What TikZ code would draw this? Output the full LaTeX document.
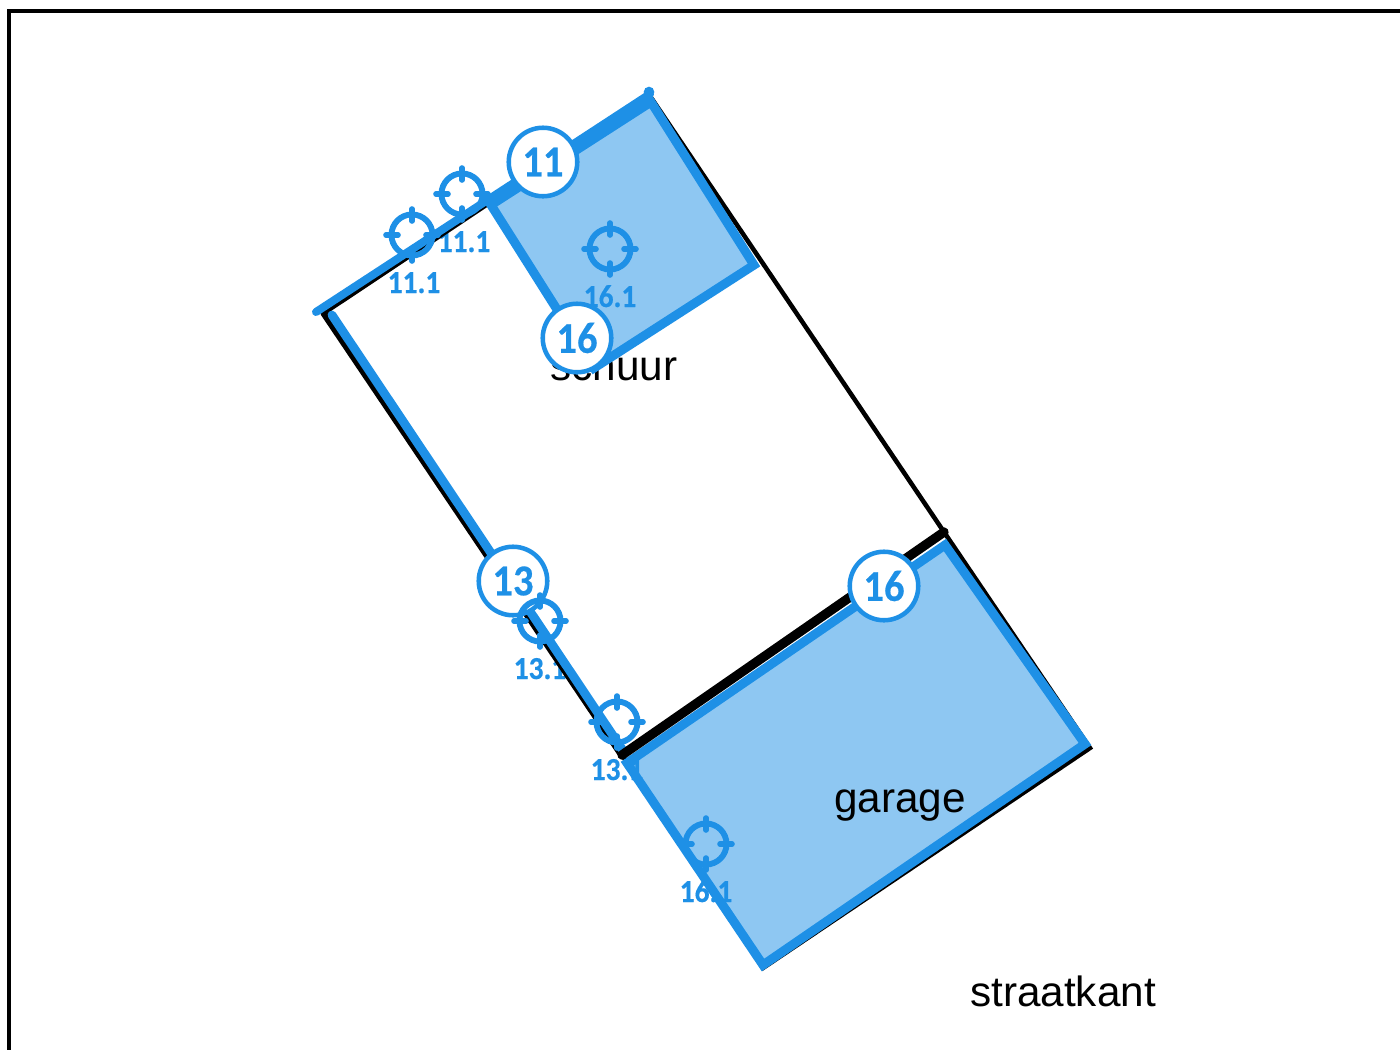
\documentclass[tikz,border=0pt]{standalone}
\usepackage{fontspec}
\setmainfont{Liberation Sans}
\newfontfamily\markfont[BoldFeatures={FakeBold=0.5,FakeStretch=0.92}]{Carlito}
\definecolor{markblue}{RGB}{30,144,230}
\tikzset{
  x=0.75pt,y=-0.75pt,
  place/.style={anchor=base,inner sep=0pt,font=\fontsize{31.7}{36}\selectfont,text=black},
  smalltag/.style={anchor=base,inner sep=0pt,font=\markfont\bfseries\fontsize{24}{26}\selectfont,text=markblue},
  bigtag/.style={circle,draw=markblue,fill=white,line width=3.4pt,minimum size=51.4pt,inner sep=0pt,font=\markfont\bfseries\fontsize{33}{36}\selectfont,text=markblue},
  room/.style={draw=markblue,line width=6.8pt,line join=miter,fill=markblue,fill opacity=.5,draw opacity=1},
  wall/.style={draw=black,line cap=round},
  edgeline/.style={draw=markblue,line cap=round},
  targetmark/.pic={
    \draw[markblue,line width=4.4pt] (0,0) circle [radius=15.4pt];
    \draw[markblue,line width=4.2pt,line cap=round]
      (0,-26) -- (0,-14) (0,14) -- (0,26) (-26,0) -- (-14,0) (14,0) -- (26,0);
  }
}
\begin{document}
\begin{tikzpicture}
\useasboundingbox (0,0) rectangle (1400,1050);
\begin{scope}
\clip (0,0) rectangle (1400,1050);
\draw[black,line width=2.4pt] (9,1100) -- (9,11) -- (1450,11);
\end{scope}

% coordinates
\coordinate (bW) at (324,313);
\coordinate (bN) at (650,96);
\coordinate (bE) at (944,532);
\coordinate (bF) at (1090,748);
\coordinate (bS) at (763,968);
\coordinate (bG) at (622,755);
\coordinate (sA) at (491,205);
\coordinate (sB) at (651,102);
\coordinate (sC) at (754,265);
\coordinate (sD) at (594,368);
\coordinate (gA) at (945,545);
\coordinate (gB) at (1085,744);
\coordinate (gC) at (763,965);
\coordinate (gD) at (627,763);
\coordinate (eA) at (316,312);
\coordinate (eB) at (650,94);
\coordinate (eDot) at (649,92);
\coordinate (fA) at (332,315);
\coordinate (fB) at (622,749);

% texts
\node[place] (schuur) at (614,380) {schuur};

% small labels under the drawing
\node[smalltag] (l1) at (414,293) {11.1};
\node[smalltag] (l2) at (464,252) {11.1};
\node[smalltag] (l3) at (610,307) {16.1};
\node[smalltag] (l4) at (540,679) {13.1};
\node[smalltag] (l5) at (617,780) {13.1};
\node[smalltag] (l6) at (706,902) {16.1};

% black outline
\draw[wall,line width=3.4pt] (bW) -- (bN) -- (bE) -- (bF) -- (bS) -- (bG);
\draw[wall,line width=5.5pt] (bG) -- (bW);

% blue rooms
\path[room] (sA) -- (sB) -- (sC) -- (sD) -- cycle;
\path[room] (gA) -- (gB) -- (gC) -- (gD) -- cycle;

\draw[edgeline,line width=6pt] (eA) -- (eB);
\fill[markblue] (eDot) circle [radius=4pt];
\draw[edgeline,line width=6.6pt] (fA) -- (fB);

% black on top
\draw[wall,line width=7pt] (bG) -- (bE);

\node[place] (garage) at (900,812) {garage};
\node[place] (straat) at (1063,1006) {straatkant};

% circled numbers
\node[bigtag] (c11) at (543,162) {11};
\node[bigtag] (c16a) at (577,338) {16};
\node[bigtag] (c13) at (513,581) {13};
\node[bigtag] (c16b) at (884,586) {16};

% targets
\pic at (412,235) {targetmark};
\pic at (462,194) {targetmark};
\pic at (610,249) {targetmark};
\pic at (540,621) {targetmark};
\pic at (617,722) {targetmark};
\pic at (706,844) {targetmark};
\end{tikzpicture}
\end{document}
